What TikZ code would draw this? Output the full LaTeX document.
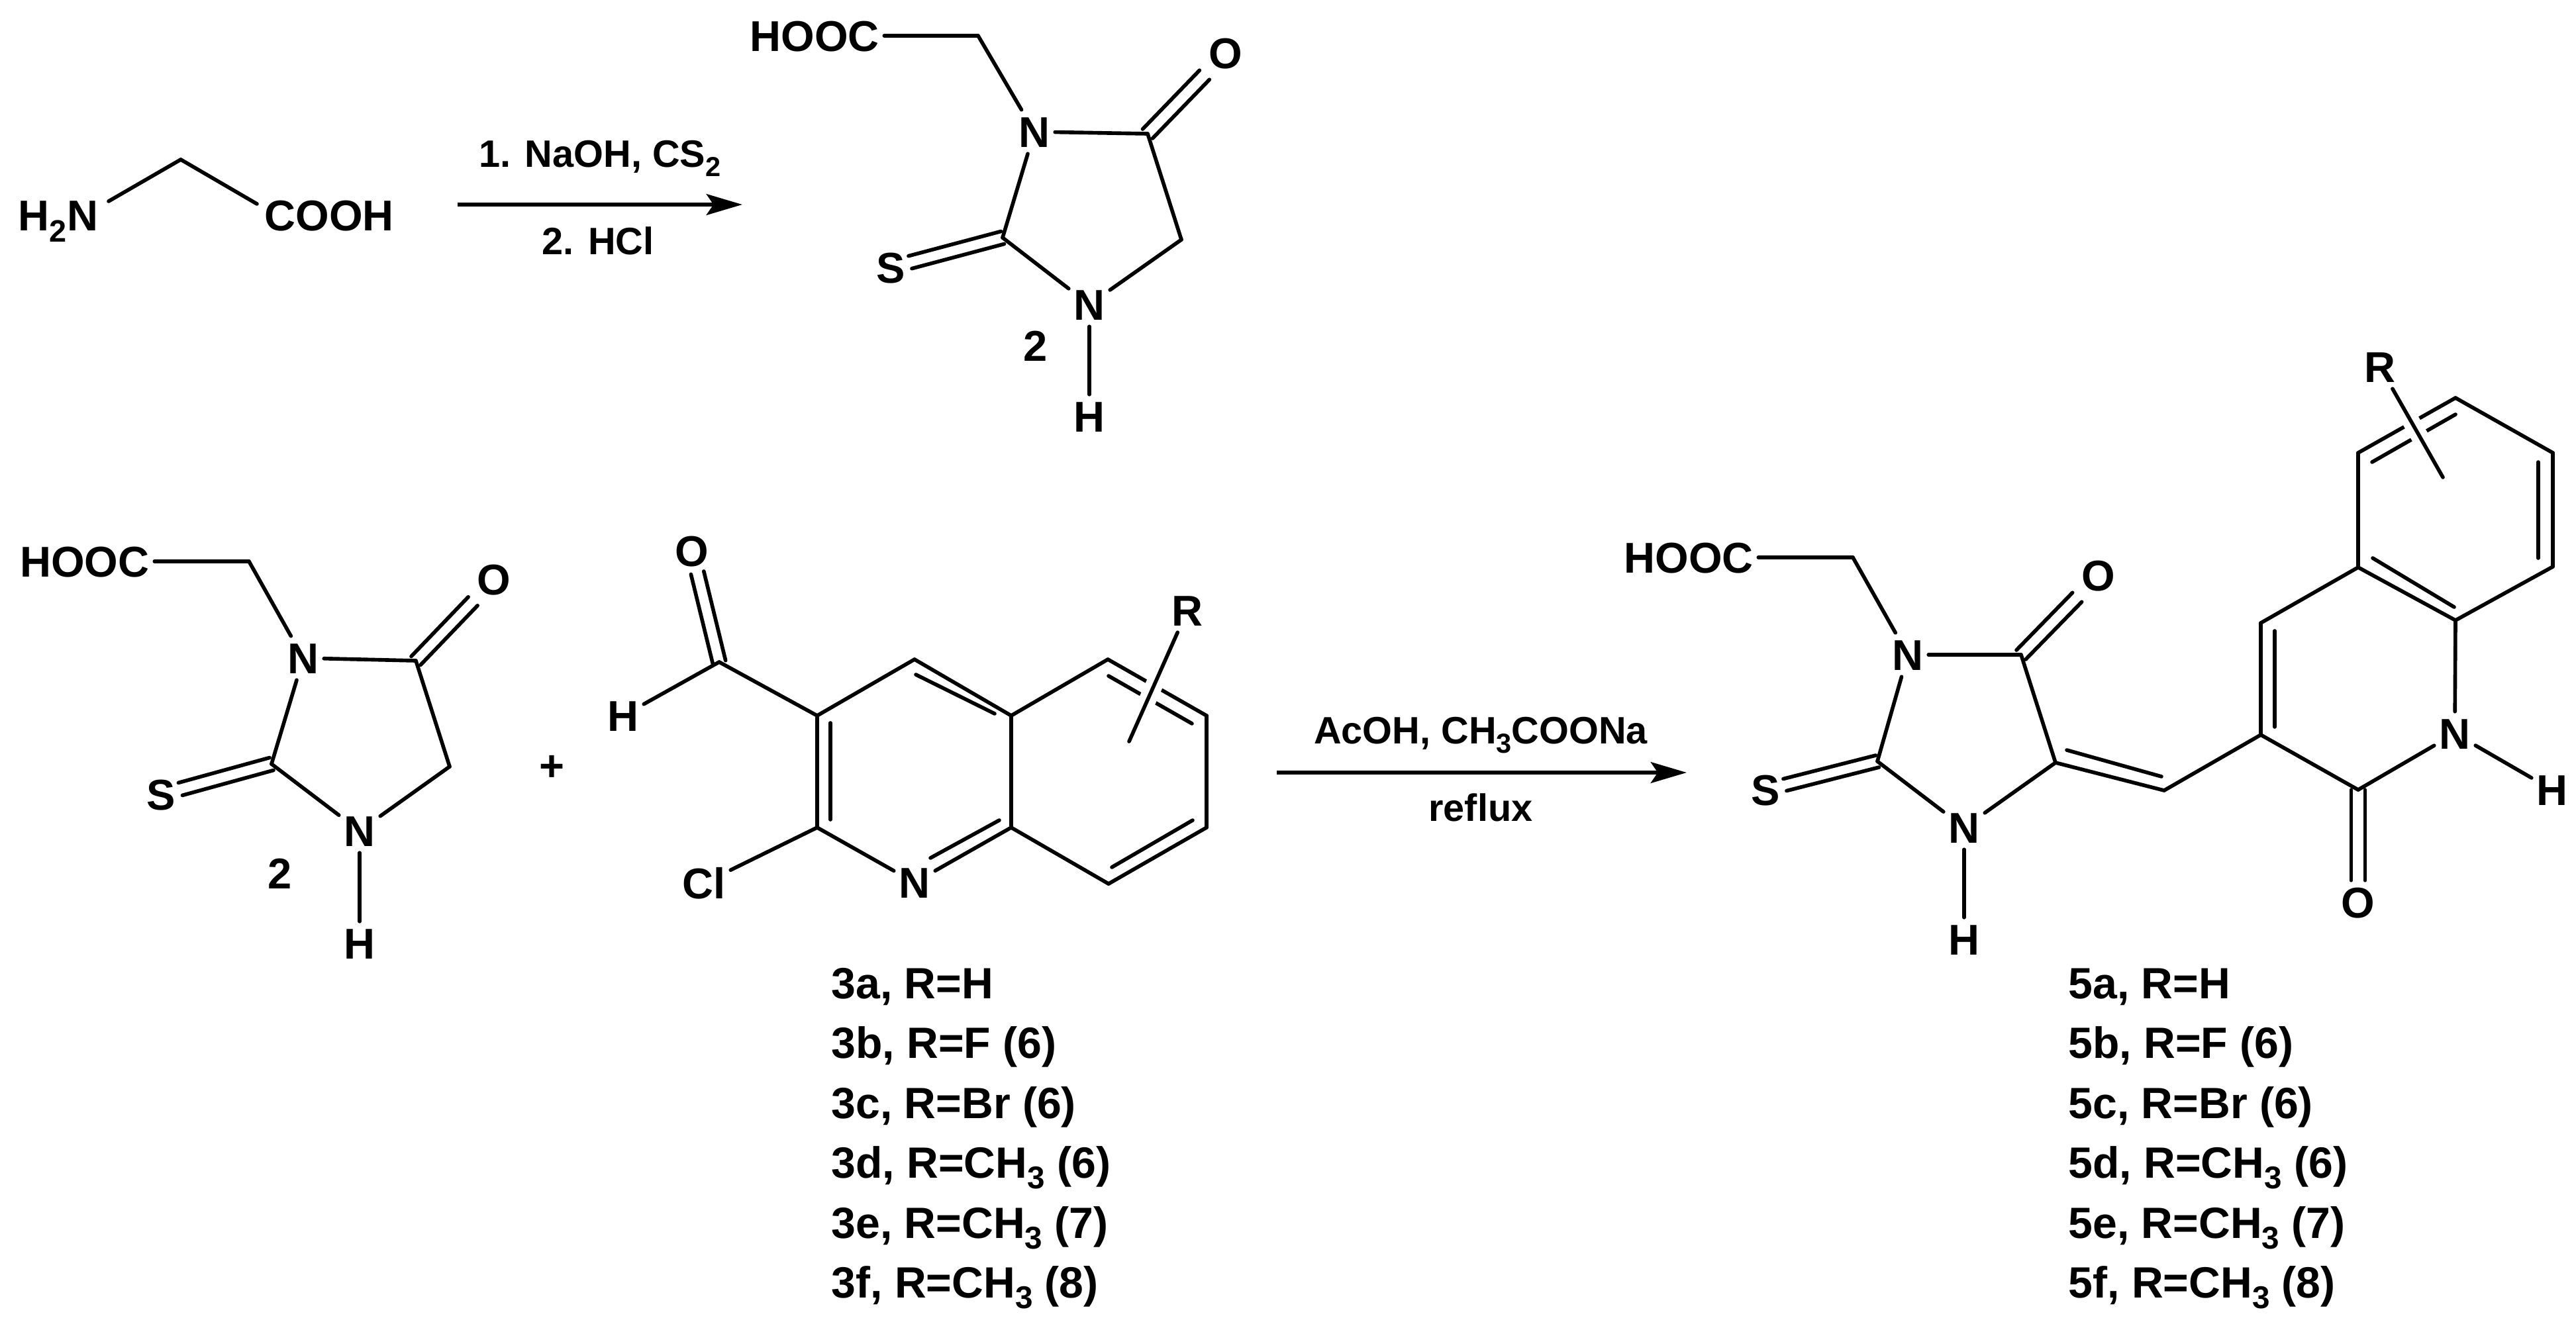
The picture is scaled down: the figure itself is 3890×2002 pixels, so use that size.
\documentclass[tikz,border=0pt]{standalone}
\usepackage{fontspec}
\usepackage{graphicx}
\setmainfont{Liberation Sans}
\usetikzlibrary{arrows.meta}
\newcommand{\sbs}[1]{\raisebox{-0.25em}{\scalebox{.72}{#1}}}
\tikzset{
  bond/.style={line width=1.6pt,line cap=round,line join=round,black},
  off/.style 2 args={transform canvas={shift={(#1,#2)}}},
  halo/.style={preaction={draw,white,line width=7.5pt,line cap=butt}},
  atom/.style={font=\fontsize{18.5pt}{20pt}\selectfont\bfseries,text height=13.5pt,text depth=0pt,inner xsep=2pt,inner ysep=2.5pt,anchor=center},
  reagent/.style={font=\fontsize{16.4pt}{18pt}\selectfont\bfseries,text height=11.6pt,text depth=0pt,inner sep=0pt,anchor=center},
  entry/.style={font=\fontsize{18.8pt}{20pt}\selectfont\bfseries,inner sep=0pt,anchor=base west},
  rxn/.style={line width=1.7pt,black,-{Stealth[length=15.4pt,width=9pt,inset=3pt]}}
}
\begin{document}
\begin{tikzpicture}[x=0.01cm,y=-0.01cm]
\useasboundingbox (0,0) rectangle (3890,2002);
% glycine
\node[atom] (gN) at (88,325) {H\sbs{2}N};
\node[atom] (gC) at (497,325) {COOH};
\coordinate (gNe) at (164,304);
\coordinate (gA) at (273,241);
\coordinate (gCe) at (388,308);
\draw[bond] (gNe) -- (gA);
\draw[bond] (gA) -- (gCe);
% arrow 1
\coordinate (r1s) at (691,309);
\coordinate (r1e) at (1121,309);
\draw[rxn] (r1s) -- (r1e);
\node[reagent] (r1a) at (906,232) {1. NaOH, CS\sbs{2}};
\node[reagent] (r1b) at (903,364) {2. HCl};
% compound 2, top
\node[atom] (aH) at (1230,54) {HOOC};
\coordinate (aCH) at (1477,54);
\node[atom] (aN3) at (1562,199) {N};
\coordinate (aC4) at (1733,202);
\node[atom] (aO) at (1851,80) {O};
\coordinate (aC5) at (1784,362);
\node[atom] (aN1) at (1645,460) {N};
\node[atom] (aHH) at (1645,629) {H};
\coordinate (aC2) at (1514,359);
\node[atom] (aS) at (1345,404) {S};
\node[atom] (a2) at (1564,522) {2};
\draw[bond] (aH) -- (aCH);
\draw[bond] (aCH) -- (aN3);
\draw[bond] (aN3) -- (aC4);
\draw[bond,off={-7.5}{-7}] (aC4) -- (aO);
\draw[bond,off={7.5}{7}] (aC4) -- (aO);
\draw[bond] (aC4) -- (aC5);
\draw[bond] (aC5) -- (aN1);
\draw[bond] (aN1) -- (aHH);
\draw[bond] (aN3) -- (aC2);
\draw[bond] (aC2) -- (aN1);
\draw[bond,off={-2.5}{-9.5}] (aC2) -- (aS);
\draw[bond,off={2.5}{9.5}] (aC2) -- (aS);
% compound 2, middle
\node[atom] (bH) at (128,848) {HOOC};
\coordinate (bCH) at (376,848);
\node[atom] (bN3) at (458,994) {N};
\coordinate (bC4) at (628,998);
\node[atom] (bO) at (746,875) {O};
\coordinate (bC5) at (679,1158);
\node[atom] (bN1) at (543,1255) {N};
\node[atom] (bHH) at (543,1425) {H};
\coordinate (bC2) at (410,1154);
\node[atom] (bS) at (243,1200) {S};
\node[atom] (b2) at (423,1319) {2};
\node[atom] (plus) at (833,1156) {+};
\draw[bond] (bH) -- (bCH);
\draw[bond] (bCH) -- (bN3);
\draw[bond] (bN3) -- (bC4);
\draw[bond,off={-7}{-6.5}] (bC4) -- (bO);
\draw[bond,off={7}{6.5}] (bC4) -- (bO);
\draw[bond] (bC4) -- (bC5);
\draw[bond] (bC5) -- (bN1);
\draw[bond] (bN1) -- (bHH);
\draw[bond] (bN3) -- (bC2);
\draw[bond] (bC2) -- (bN1);
\draw[bond,off={-3}{-9.5}] (bC2) -- (bS);
\draw[bond,off={3}{9.5}] (bC2) -- (bS);
% chloroquinoline aldehyde
\coordinate (qC) at (1086,1000);
\node[atom] (qO) at (1045,832) {O};
\node[atom] (qH) at (941,1081) {H};
\coordinate (q3) at (1234,1081);
\coordinate (q4) at (1381,996);
\coordinate (q4a) at (1527,1081);
\coordinate (q8a) at (1527,1250);
\node[atom] (qN) at (1381,1333) {N};
\coordinate (q2) at (1234,1250);
\coordinate (q5) at (1673,996);
\coordinate (q6) at (1822,1081);
\coordinate (q7) at (1822,1250);
\coordinate (q8) at (1674,1335);
\node[atom] (qCl) at (1063,1334) {Cl};
\node[atom] (qR) at (1793,922) {R};
\coordinate (qRe) at (1705,1120);
\draw[bond,off={-9.7}{2.3}] (qC) -- (qO);
\draw[bond,off={9.7}{-2.3}] (qC) -- (qO);
\draw[bond] (qC) -- (qH);
\draw[bond] (qC) -- (q3);
\draw[bond] (q3) -- (q4);
\draw[bond] (q4) -- (q4a);
\draw[bond] (q4a) -- (q8a);
\draw[bond] (q8a) -- (qN);
\draw[bond] (qN) -- (q2);
\draw[bond] (q2) -- (q3);
\draw[bond] (q2) -- (qCl);
\draw[bond] (q4a) -- (q5);
\draw[bond] (q5) -- (q6);
\draw[bond] (q6) -- (q7);
\draw[bond] (q7) -- (q8);
\draw[bond] (q8) -- (q8a);
\draw[bond] (1254,1092) -- (1254,1238);
\draw[bond] (1383,1019) -- (1502,1078);
\draw[bond] (1674,1021) -- (1800,1093);
\draw[bond] (1801,1239) -- (1679,1310);
\draw[bond] (1405,1296) -- (1509,1239);
\draw[bond,halo] (qR) -- (qRe);
% arrow 2
\coordinate (r2s) at (1928,1167);
\coordinate (r2e) at (2547,1167);
\draw[rxn] (r2s) -- (r2e);
\node[reagent] (r2a) at (2236,1103) {AcOH, CH\sbs{3}COONa};
\node[reagent] (r2b) at (2236,1220) {reflux};
% product
\node[atom] (cH) at (2550,842) {HOOC};
\coordinate (cCH) at (2798,842);
\node[atom] (cN3) at (2881,989) {N};
\coordinate (cC4) at (3052,989);
\node[atom] (cO) at (3169,869) {O};
\coordinate (cC5) at (3104,1152);
\node[atom] (cN1) at (2966,1250) {N};
\node[atom] (cHH) at (2966,1419) {H};
\coordinate (cC2) at (2835,1150);
\node[atom] (cS) at (2666,1193) {S};
\coordinate (cV) at (3268,1194);
\coordinate (p3) at (3414,1110);
\coordinate (p4) at (3414,941);
\coordinate (p4a) at (3561,857);
\coordinate (p8a) at (3708,937);
\coordinate (p5) at (3561,684);
\coordinate (p6) at (3708,601);
\coordinate (p7) at (3855,684);
\coordinate (p8) at (3855,856);
\node[atom] (pN) at (3707,1108) {N};
\node[atom] (pH) at (3854,1193) {H};
\coordinate (p2) at (3561,1193);
\node[atom] (pO) at (3561,1363) {O};
\node[atom] (pR) at (3594,554) {R};
\coordinate (pRe) at (3689,721);
\draw[bond] (cH) -- (cCH);
\draw[bond] (cCH) -- (cN3);
\draw[bond] (cN3) -- (cC4);
\draw[bond,off={-7}{-7}] (cC4) -- (cO);
\draw[bond,off={7}{7}] (cC4) -- (cO);
\draw[bond] (cC4) -- (cC5);
\draw[bond] (cC5) -- (cN1);
\draw[bond] (cN1) -- (cHH);
\draw[bond] (cN3) -- (cC2);
\draw[bond] (cC2) -- (cN1);
\draw[bond,off={-2.5}{-9}] (cC2) -- (cS);
\draw[bond,off={2.5}{9}] (cC2) -- (cS);
\draw[bond] (cC5) -- (cV);
\draw[bond] (3121,1133) -- (3264,1173);
\draw[bond] (cV) -- (p3);
\draw[bond] (p3) -- (p4);
\draw[bond] (3435,953) -- (3435,1098);
\draw[bond] (p4) -- (p4a);
\draw[bond] (p4a) -- (p8a);
\draw[bond] (3583,843) -- (3706,917);
\draw[bond] (p4a) -- (p5);
\draw[bond] (p5) -- (p6);
\draw[bond] (3582,698) -- (3708,626);
\draw[bond] (p6) -- (p7);
\draw[bond] (p7) -- (p8);
\draw[bond] (3833,698) -- (3833,843);
\draw[bond] (p8) -- (p8a);
\draw[bond] (p8a) -- (pN);
\draw[bond] (pN) -- (pH);
\draw[bond] (pN) -- (p2);
\draw[bond] (p3) -- (p2);
\draw[bond,off={-10.5}{0}] (p2) -- (pO);
\draw[bond,off={10.5}{0}] (p2) -- (pO);
\draw[bond,halo] (pR) -- (pRe);
% series lists
\node[entry] (l3a) at (1255,1508) {3a, R=H};
\node[entry] (l3b) at (1255,1598) {3b, R=F (6)};
\node[entry] (l3c) at (1255,1689) {3c, R=Br (6)};
\node[entry] (l3d) at (1255,1779) {3d, R=CH\sbs{3} (6)};
\node[entry] (l3e) at (1255,1870) {3e, R=CH\sbs{3} (7)};
\node[entry] (l3f) at (1255,1960) {3f, R=CH\sbs{3} (8)};
\node[entry] (l5a) at (3123,1508) {5a, R=H};
\node[entry] (l5b) at (3123,1598) {5b, R=F (6)};
\node[entry] (l5c) at (3123,1689) {5c, R=Br (6)};
\node[entry] (l5d) at (3123,1779) {5d, R=CH\sbs{3} (6)};
\node[entry] (l5e) at (3123,1870) {5e, R=CH\sbs{3} (7)};
\node[entry] (l5f) at (3123,1960) {5f, R=CH\sbs{3} (8)};
\end{tikzpicture}
\end{document}
